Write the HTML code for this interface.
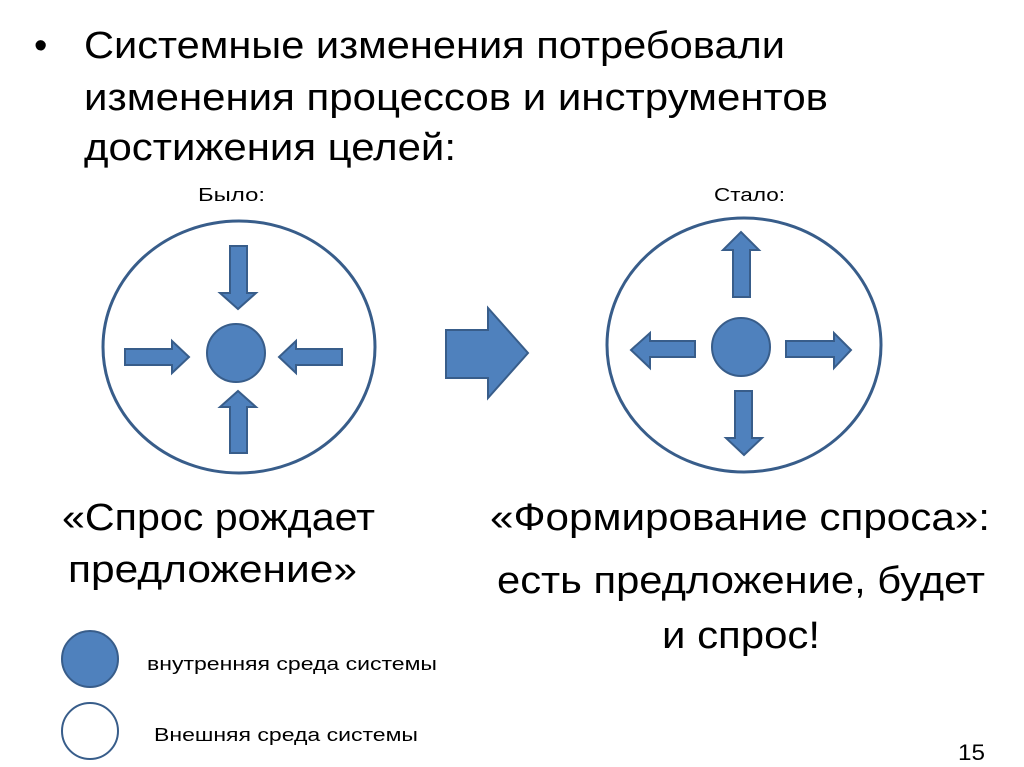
<!DOCTYPE html>
<html><head><meta charset="utf-8"><style>
html,body{margin:0;padding:0;background:#fff;width:1024px;height:767px;overflow:hidden}
svg{display:block}
text{font-family:"Liberation Sans","DejaVu Sans",sans-serif;fill:#000}
</style></head><body>
<svg width="1024" height="767" viewBox="0 0 1024 767">
<g font-size="38">
<text x="34" y="58">•</text>
<text x="84" y="58" textLength="701" lengthAdjust="spacingAndGlyphs">Системные изменения потребовали</text>
<text x="84" y="110" textLength="744" lengthAdjust="spacingAndGlyphs">изменения процессов и инструментов</text>
<text x="84" y="160" textLength="372" lengthAdjust="spacingAndGlyphs">достижения целей:</text>
</g>
<text x="198" y="201" font-size="18" textLength="67" lengthAdjust="spacingAndGlyphs">Было:</text>
<text x="714" y="201" font-size="18" textLength="71" lengthAdjust="spacingAndGlyphs">Стало:</text>
<g fill="#4f81bd" stroke="#385d8a" stroke-width="2">
<ellipse cx="239" cy="347" rx="136" ry="126" fill="#fff" stroke-width="3"/>
<circle cx="236" cy="353" r="29"/>
<polygon points="230,246 247,246 247,293 256,293 238,309 220,293 230,293"/>
<polygon points="230,453 247,453 247,407 256,407 238,391 220,407 230,407"/>
<polygon points="125,349 172,349 172,341 189,357 172,373 172,365 125,365"/>
<polygon points="342,349 296,349 296,341 279,357 296,373 296,365 342,365"/>
<ellipse cx="744" cy="345" rx="137" ry="127" fill="#fff" stroke-width="3"/>
<circle cx="741" cy="347" r="29"/>
<polygon points="733,297 750,297 750,250 759,250 741,232 723,250 733,250"/>
<polygon points="735,391 752,391 752,438 762,438 744,455 726,438 735,438"/>
<polygon points="695,341 650,341 650,333 631,350 650,368 650,357 695,357"/>
<polygon points="786,341 834,341 834,333 851,350 834,368 834,357 786,357"/>
<polygon points="446,330 488,330 488,308 528,353 488,398 488,378 446,378"/>
<circle cx="90" cy="659" r="28"/>
<circle cx="90" cy="731" r="28" fill="#fff"/>
</g>
<g font-size="38">
<text x="62" y="530" textLength="313" lengthAdjust="spacingAndGlyphs">«Спрос рождает</text>
<text x="68" y="582" textLength="289" lengthAdjust="spacingAndGlyphs">предложение»</text>
<text x="490" y="530" textLength="500" lengthAdjust="spacingAndGlyphs">«Формирование спроса»:</text>
<text x="497" y="593" textLength="488" lengthAdjust="spacingAndGlyphs">есть предложение, будет</text>
<text x="662" y="648" textLength="158" lengthAdjust="spacingAndGlyphs">и спрос!</text>
</g>
<text x="147" y="670" font-size="18" textLength="290" lengthAdjust="spacingAndGlyphs">внутренняя среда системы</text>
<text x="154" y="741" font-size="18" textLength="264" lengthAdjust="spacingAndGlyphs">Внешняя среда системы</text>
<text x="958" y="760" font-size="22" textLength="27" lengthAdjust="spacingAndGlyphs">15</text>
</svg>
</body></html>
